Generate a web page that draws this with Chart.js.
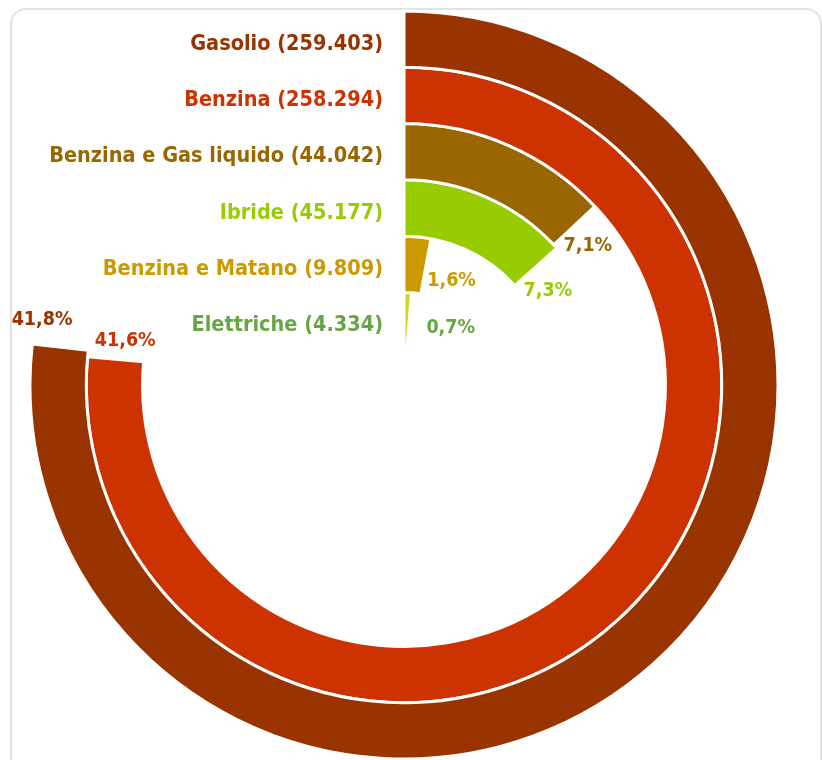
<!DOCTYPE html>
<html>
<head>
<meta charset="utf-8">
<script src="https://cdn.jsdelivr.net/npm/chart.js@4"></script>
<style>
  html, body { margin: 0; padding: 0; background: #fff; overflow: hidden; }
  .card {
    position: absolute; left: 10px; top: 8px; width: 812px; height: 800px;
    border: 2px solid #e2e2e2; border-radius: 16px; box-sizing: border-box;
  }
  #fuel-chart { position: absolute; left: 0; top: 0; }
</style>
</head>
<body>
<div class="card"></div>
<canvas id="fuel-chart" width="822" height="760"></canvas>
<script>
// registrations by fuel type, outer ring first
const fuels = ['Gasolio', 'Benzina', 'Benzina e Gas liquido', 'Ibride', 'Benzina e Matano', 'Elettriche'];
const registrations = [259403, 258294, 44042, 45177, 9809, 4334];
const ringColors = ['#993300', '#cc3300', '#996600', '#99cc00', '#cc9900', '#d4d41e'];
const labelColors = ['#993300', '#cc3300', '#996600', '#99cc00', '#cc9900', '#66a644'];
// value that fills a whole circle
const fullCircle = 338000;

const total = registrations.reduce((a, b) => a + b, 0);
const fmtThousands = (n) => String(n).replace(/\B(?=(\d{3})+(?!\d))/g, '.');
const fmtPct = (n) => (n / total * 100).toFixed(1).replace('.', ',');

const FAMILY = '"DejaVu Sans Condensed", "DejaVu Sans", sans-serif';

// percent label placement past the arc end: [along the arc, outwards]
const pctOffsets = [[25, 21], [19, -8], [24, -4], [26, -7], [28, -10], [42, -4]];

const ringLabels = {
  id: 'ringLabels',
  afterDatasetsDraw(chart) {
    const ctx = chart.ctx;
    ctx.save();
    ctx.textBaseline = 'middle';
    chart.data.datasets.forEach((ds, i) => {
      const arc = chart.getDatasetMeta(i).data[0];
      const {x, y, endAngle, innerRadius, outerRadius} = arc.getProps(['x', 'y', 'endAngle', 'innerRadius', 'outerRadius'], true);
      const mid = (innerRadius + outerRadius) / 2;
      ctx.fillStyle = labelColors[i];

      // name on the left of the ring start
      ctx.font = 'bold 21.5px ' + FAMILY;
      ctx.textAlign = 'right';
      ctx.fillText(`${fuels[i]} (${fmtThousands(registrations[i])})`, x - 21, y - mid + 5);

      // percentage just past the end of the arc
      const [along, out] = pctOffsets[i];
      const r = mid + out;
      const px = x + r * Math.cos(endAngle) - along * Math.sin(endAngle);
      const py = y + r * Math.sin(endAngle) + along * Math.cos(endAngle);
      ctx.font = 'bold 19.5px ' + FAMILY;
      ctx.textAlign = 'center';
      ctx.fillText(fmtPct(registrations[i]) + '%', px, py);
    });
    ctx.restore();
  }
};

new Chart(document.getElementById('fuel-chart'), {
  type: 'doughnut',
  data: {
    labels: ['value', 'rest'],
    datasets: fuels.map((name, i) => ({
      label: name,
      data: [registrations[i], fullCircle - registrations[i]],
      backgroundColor: [ringColors[i], 'rgba(0,0,0,0)'],
      borderColor: '#ffffff',
      borderWidth: [3, 0],
      hoverOffset: 0,
    })),
  },
  options: {
    responsive: false,
    animation: false,
    devicePixelRatio: 1,
    events: [],
    radius: 374,
    cutout: '9.7%',
    layout: {
      padding: {left: 30, right: 44, top: 11, bottom: 1},
    },
    plugins: {
      legend: {display: false},
      tooltip: {enabled: false},
    },
  },
  plugins: [ringLabels],
});
</script>
</body>
</html>
